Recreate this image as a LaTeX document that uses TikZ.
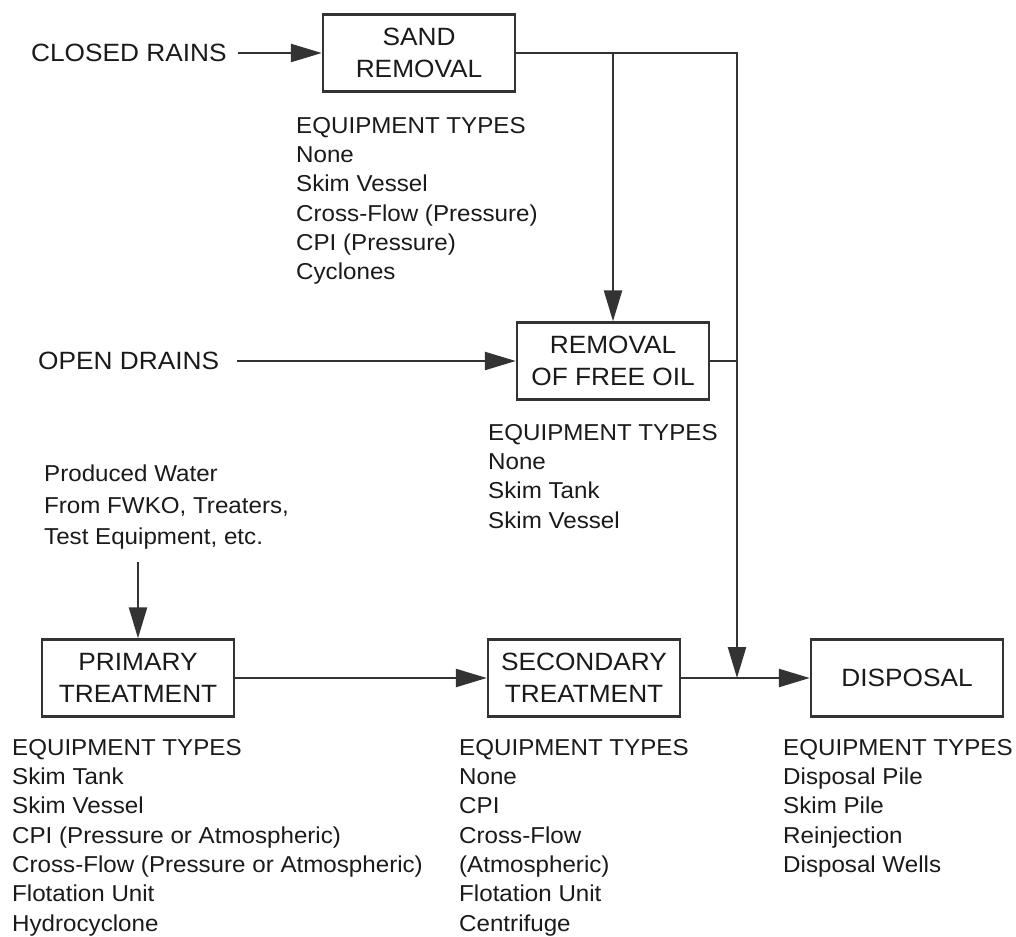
\documentclass[tikz,border=0pt]{standalone}
\usepackage{fontspec}
\setmainfont{Liberation Sans}[FakeStretch=1.05]
\usetikzlibrary{arrows.meta}
\definecolor{ink}{HTML}{1A1A1A}
\definecolor{wire}{HTML}{333333}
\begin{document}
\begin{tikzpicture}[x=1pt,y=-1pt,
  stagebox/.style={draw=wire,line width=2.4pt,minimum width=192pt,minimum height=77pt,
    inner sep=0pt,align=center,text=ink,font=\fontsize{25}{32}\selectfont},
  lbl/.style={inner sep=0pt,text=ink,font=\fontsize{25}{32}\selectfont},
  eqlist/.style={inner sep=0pt,anchor=north west,align=left,text=ink,
    font=\fontsize{23}{29.3}\selectfont},
  flow/.style={draw=wire,line width=2.4pt},
  arr/.style={flow,-{Triangle[length=31pt,width=18pt]}}]
\useasboundingbox (0,0) rectangle (1016,936);

% boxes
\node[stagebox] (sand) at (419,53) {SAND\\REMOVAL};
\node[stagebox] (freeoil) at (613,361) {REMOVAL\\OF FREE OIL};
\node[stagebox] (primary) at (138,678) {PRIMARY\\TREATMENT};
\node[stagebox] (secondary) at (584,678) {SECONDARY\\TREATMENT};
\node[stagebox] (disposal) at (907,678) {DISPOSAL};

% inputs
\node[lbl,anchor=west] (cr) at (31,53) {CLOSED RAINS};
\node[lbl,anchor=west] (od) at (38,361) {OPEN DRAINS};
\node[eqlist,font=\fontsize{23}{31.5}\selectfont] (pw) at (44,465)
  {Produced Water\\From FWKO, Treaters,\\Test Equipment, etc.};

% equipment lists
\node[eqlist] (sandeq) at (296,117)
  {EQUIPMENT TYPES\\None\\Skim Vessel\\Cross-Flow (Pressure)\\CPI (Pressure)\\Cyclones};
\node[eqlist] (freeeq) at (488,424)
  {EQUIPMENT TYPES\\None\\Skim Tank\\Skim Vessel};
\node[eqlist] (primeq) at (12,739)
  {EQUIPMENT TYPES\\Skim Tank\\Skim Vessel\\CPI (Pressure or Atmospheric)\\Cross-Flow (Pressure or Atmospheric)\\Flotation Unit\\Hydrocyclone};
\node[eqlist] (seceq) at (459,739)
  {EQUIPMENT TYPES\\None\\CPI\\Cross-Flow\\(Atmospheric)\\Flotation Unit\\Centrifuge};
\node[eqlist] (dispeq) at (783,739)
  {EQUIPMENT TYPES\\Disposal Pile\\Skim Pile\\Reinjection\\Disposal Wells};

% connectors
\coordinate (bypass) at (737,53);
\draw[arr,shorten <=11pt] (cr.east) -- (sand.west);
\draw[arr,shorten <=18pt] (od.east) -- (freeoil.west);
\draw[arr,shorten <=12pt] (primary.north |- pw.south) -- (primary.north);
\draw[arr] (sand.east) -- (bypass) -- (bypass |- disposal.west);
\draw[arr] (freeoil.north |- sand.east) -- (freeoil.north);
\draw[flow] (freeoil.east) -- (freeoil.east -| bypass);
\draw[arr] (primary.east) -- (secondary.west);
\draw[arr] (secondary.east) -- (disposal.west);
\end{tikzpicture}
\end{document}
